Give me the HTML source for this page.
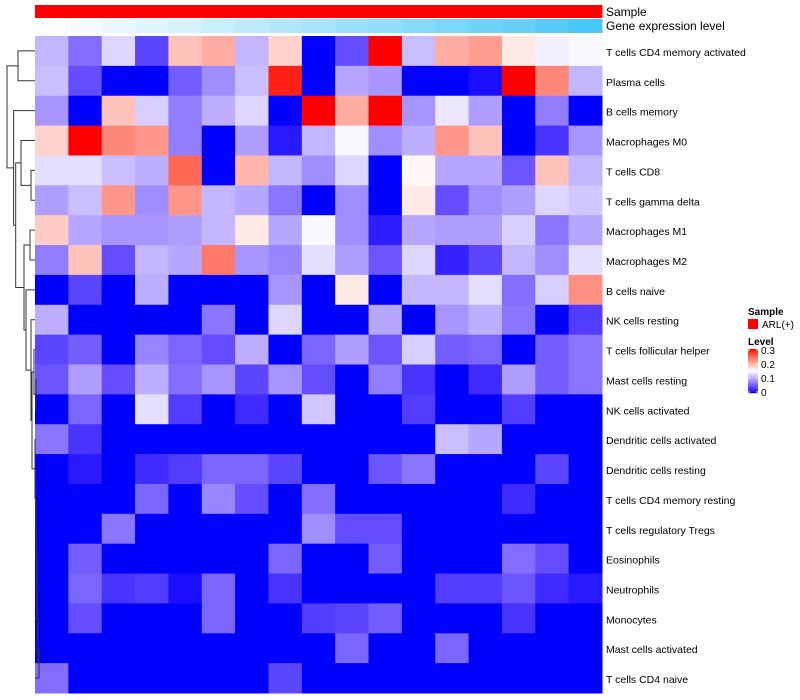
<!DOCTYPE html>
<html><head><meta charset="utf-8"><style>
html,body{margin:0;padding:0;background:#fff;width:800px;height:700px;overflow:hidden}
text{font-family:"Liberation Sans",Arial,sans-serif;fill:#000}
</style></head><body>
<svg id="chart" width="800" height="700" xmlns="http://www.w3.org/2000/svg"></svg>
<script>
const rowLabels=["T cells CD4 memory activated","Plasma cells","B cells memory","Macrophages M0","T cells CD8","T cells gamma delta","Macrophages M1","Macrophages M2","B cells naive","NK cells resting","T cells follicular helper","Mast cells resting","NK cells activated","Dendritic cells activated","Dendritic cells resting","T cells CD4 memory resting","T cells regulatory  Tregs","Eosinophils","Neutrophils","Monocytes","Mast cells activated","T cells CD4 naive"];
const geneLevel=[0,0.06,0.12,0.18,0.24,0.3,0.36,0.42,0.48,0.54,0.6,0.66,0.72,0.78,0.84,0.92,1];
const values=[
[0.105,0.06,0.125,0.035,0.19,0.205,0.105,0.18,0,0.04,0.3,0.11,0.205,0.215,0.165,0.14,0.145],
[0.11,0.04,0,0,0.05,0.08,0.11,0.29,0,0.095,0.085,0,0,0.005,0.3,0.23,0.105],
[0.085,0,0.19,0.12,0.07,0.1,0.125,0,0.3,0.205,0.3,0.085,0.135,0.09,0,0.07,0],
[0.18,0.3,0.23,0.22,0.07,0,0.09,0.01,0.105,0.145,0.08,0.1,0.22,0.19,0,0.025,0.085],
[0.13,0.13,0.11,0.1,0.25,0,0.2,0.105,0.08,0.125,0,0.155,0.095,0.095,0.045,0.19,0.105],
[0.09,0.11,0.22,0.08,0.22,0.105,0.095,0.065,0,0.08,0,0.165,0.04,0.08,0.09,0.125,0.115],
[0.185,0.095,0.085,0.085,0.09,0.105,0.165,0.095,0.145,0.08,0.012,0.095,0.09,0.09,0.12,0.065,0.095],
[0.07,0.19,0.04,0.105,0.095,0.24,0.085,0.075,0.13,0.09,0.045,0.125,0.015,0.035,0.105,0.08,0.13],
[0,0.035,0,0.1,0,0,0,0.085,0,0.165,0,0.105,0.105,0.13,0.06,0.12,0.225],
[0.1,0,0,0,0,0.065,0,0.125,0,0,0.095,0,0.085,0.1,0.065,0,0.03],
[0.035,0.05,0,0.075,0.055,0.04,0.1,0,0.055,0.09,0.045,0.12,0.05,0.055,0,0.05,0.065],
[0.045,0.09,0.04,0.1,0.06,0.085,0.035,0.085,0.04,0,0.07,0.025,0,0.02,0.09,0.05,0.065],
[0,0.055,0,0.13,0.03,0,0.02,0,0.115,0,0,0.03,0,0,0.03,0,0],
[0.065,0.025,0,0,0,0,0,0,0,0,0,0,0.11,0.095,0,0,0],
[0,0.01,0,0.02,0.03,0.055,0.055,0.035,0,0,0.045,0.065,0,0,0,0.035,0],
[0,0,0,0.055,0,0.075,0.04,0,0.06,0,0,0,0,0,0.02,0,0],
[0,0,0.065,0,0,0,0,0,0.08,0.04,0.04,0,0,0,0,0,0],
[0,0.05,0,0,0,0,0,0.055,0,0,0.05,0,0,0,0.06,0.04,0],
[0,0.055,0.025,0.03,0.005,0.055,0,0.025,0,0,0,0,0.03,0.03,0.045,0.02,0.01],
[0,0.04,0,0,0,0.055,0,0,0.03,0.035,0.05,0,0,0,0.025,0,0],
[0,0,0,0,0,0,0,0,0,0.055,0,0,0.055,0,0,0,0],
[0.06,0,0,0,0,0,0,0.035,0,0,0,0,0,0,0,0,0]];
const merges=[[18,0,1],[31,4,5],[21,3,"m1"],[30,6,7],[36,11,12],[34,10,"m4"],[39,20,21],[38,19,"m6"],[37.5,18,"m7"],[37,17,"m8"],[36.5,16,"m9"],[36,15,"m10"],[35.5,14,"m11"],[35,13,"m12"],[32,"m5","m13"],[31,9,"m14"],[26,8,"m15"],[24,"m3","m16"],[15.7,"m2","m17"],[13.6,2,"m18"],[7,"m0","m19"]];
const tickVals=[0,0.1,0.2,0.3];

const svg=document.getElementById('chart');const NS="http://www.w3.org/2000/svg";
function mk(t,a,p){const e=document.createElementNS(NS,t);for(const k in a)e.setAttribute(k,a[k]);(p||svg).appendChild(e);return e;}
const X0=35,X1=602,Y0=36,Y1=693,nC=17,nR=rowLabels.length;
const cw=(X1-X0)/nC,rh=(Y1-Y0)/nR;
const xs=c=>X0+c*cw, ys=r=>Y0+r*rh;
const LB=[32.30,79.19,-107.86],LW=[100,0,0],LR=[53.24,80.09,67.20];
function lab2rgb(L,a,b){let fy=(L+16)/116,fx=fy+a/500,fz=fy-b/200;
 const f=t=>t>0.206897?t*t*t:(t-16/116)/7.787;
 let X=0.95047*f(fx),Y=f(fy),Z=1.08883*f(fz);
 let r=3.2406*X-1.5372*Y-0.4986*Z,g=-0.9689*X+1.8758*Y+0.0415*Z,bb=0.0557*X-0.2040*Y+1.0570*Z;
 const gm=c=>{c=c<=0.0031308?12.92*c:1.055*Math.pow(c,1/2.4)-0.055;return Math.max(0,Math.min(1,c))*255;};
 return [gm(r),gm(g),gm(bb)];}
function col(v){let t=Math.max(0,Math.min(0.3,v))/0.3;let A,B,s,R1,R2;
 if(t<0.5){A=LB;B=LW;s=t/0.5;R1=[0,0,255];R2=[255,255,255];}else{A=LW;B=LR;s=(t-0.5)/0.5;R1=[255,255,255];R2=[255,0,0];}
 const lc=lab2rgb(A[0]+(B[0]-A[0])*s,A[1]+(B[1]-A[1])*s,A[2]+(B[2]-A[2])*s);
 const out=[0,1,2].map(i=>Math.round(0.5*lc[i]+0.5*(R1[i]+(R2[i]-R1[i])*s)));
 return `rgb(${out[0]},${out[1]},${out[2]})`;}
function gcol(v){const r=Math.round(255+(72-255)*v),g=Math.round(255+(200-255)*v),b=Math.round(255+(248-255)*v);return `rgb(${r},${g},${b})`;}
for(let c=0;c<nC;c++){
 const s=mk('rect',{x:xs(c),y:5,width:cw+0.5,height:13,fill:'#ff0000'});
 
 
 const g=mk('rect',{x:xs(c),y:19,width:cw+0.5,height:14,fill:gcol(geneLevel[c])});
 
 
}
let t1=mk('text',{x:606,y:16,'font-size':12});t1.textContent='Sample';

let t2=mk('text',{x:606,y:30,'font-size':12});t2.textContent='Gene expression level';

for(let r=0;r<nR;r++){for(let c=0;c<nC;c++){
 const e=mk('rect',{x:xs(c),y:ys(r),width:cw+0.5,height:rh+0.5,fill:col(values[r][c])});
 
 
}
 const l=mk('text',{x:606,y:ys(r)+rh/2+5,'font-size':10.5});l.textContent=rowLabels[r];
 
 
}
const pos={};const g=mk('g',{stroke:'#333','stroke-width':1,fill:'none'});

function info(ch){if(typeof ch==='number')return{y:ys(ch)+rh/2,x:X0};return pos[ch];}
merges.forEach((m,i)=>{const a=info(m[1]),b=info(m[2]);const x=m[0];
 mk('path',{d:`M${a.x},${a.y}H${x}V${b.y}H${b.x}`},g);pos['m'+i]={x:x,y:(a.y+b.y)/2};});
let lt=mk('text',{x:748,y:315,'font-size':10,'font-weight':'bold'});lt.textContent='Sample';

let lr=mk('rect',{x:748,y:319,width:10,height:10,fill:'#ff0000'});

let la=mk('text',{x:762,y:328,'font-size':10});la.textContent='ARL(+)';

let lv=mk('text',{x:748,y:345,'font-size':10,'font-weight':'bold'});lv.textContent='Level';

const cbTop=349,cbBot=393;
for(let i=0;i<44;i++){const v=0.3*(1-i/43);mk('rect',{x:748,y:cbTop+i,width:10,height:1.2,fill:col(v)});}
tickVals.forEach(v=>{const y=cbBot-(v/0.3)*(cbBot-cbTop-2)-1;
 mk('line',{x1:748,x2:750,y1:y,y2:y,stroke:'#fff'});mk('line',{x1:756,x2:758,y1:y,y2:y,stroke:'#fff'});
 const t=mk('text',{x:761,y:y+4,'font-size':10});t.textContent=v===0?'0':v.toFixed(1);
 
 });
</script>
</body></html>
